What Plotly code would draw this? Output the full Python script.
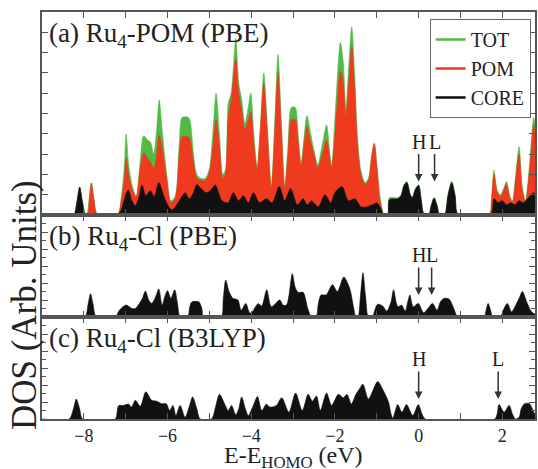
import plotly.graph_objects as go
from plotly.subplots import make_subplots

# ---------------- data (energy in eV relative to HOMO, DOS in arb. units) -------------
# Panel (a) Ru4-POM (PBE): total DOS
tot_E = [-9.0, -8.25, -8.17, -8.1, -8.03, -7.95, -7.93, -7.87, -7.82, -7.76, -7.67, -7.2,
         -7.1, -7.03, -6.99, -6.93, -6.85, -6.75, -6.66, -6.57, -6.48, -6.41, -6.33, -6.26,
         -6.2, -6.12, -6.02, -5.92, -5.82, -5.72, -5.65, -5.5, -5.45, -5.38, -5.3, -5.2,
         -5.1, -5.0, -4.92, -4.84, -4.76, -4.68, -4.62, -4.55, -4.48, -4.37, -4.3, -4.23,
         -4.15, -4.08, -4.01, -3.94, -3.86, -3.78, -3.7, -3.62, -3.52, -3.44, -3.36, -3.28,
         -3.2, -3.12, -3.04, -2.95, -2.88, -2.81, -2.74, -2.67, -2.58, -2.48, -2.41, -2.3,
         -2.2, -2.12, -2.08, -1.98, -1.87, -1.8, -1.74, -1.68, -1.6, -1.53, -1.46, -1.38,
         -1.28, -1.2, -1.12, -1.06, -1.0, -0.93, -0.86, -0.84, -0.74, -0.7, -0.5, -0.42,
         -0.35, -0.28, -0.2, -0.15, -0.08, 0.0, 0.06, 0.13, 0.24, 0.3, 0.37, 0.44, 0.5,
         0.62, 0.7, 0.79, 0.87, 0.95, 1.68, 1.74, 1.8, 1.88, 1.96, 2.03, 2.1, 2.17, 2.24,
         2.32, 2.4, 2.47, 2.55, 2.65, 2.75, 2.8]
tot_V = [0, 0, 0.6, 1.38, 0.6, 0, 0, 0.8, 1.58, 0.8, 0, 0,
         1.0, 2.5, 4.0, 2.5, 1.5, 0.9, 2.5, 3.9, 3.7, 3.6, 3.0, 4.2,
         5.67, 4.0, 2.0, 0.7, 0.9, 3.5, 4.8, 4.8, 4.5, 3.0, 2.0, 1.8,
         1.8, 2.3, 4.0, 6.0, 4.0, 2.0, 2.2, 5.5, 6.0, 8.7, 6.5, 5.7,
         4.5, 5.2, 6.0, 4.0, 2.4, 4.5, 7.0, 4.5, 1.4, 4.5, 7.9, 4.5,
         1.4, 3.5, 5.3, 5.3, 4.0, 2.56, 3.8, 4.9, 4.0, 3.0, 2.46, 3.5,
         4.43, 3.0, 2.4, 5.5, 8.5, 7.5, 5.2, 7.0, 9.26, 7.0, 3.8, 2.2,
         1.6, 1.8, 3.0, 3.55, 2.5, 1.0, 0.2, 0.05, 0.05, 0.85, 0.85, 1.0,
         1.5, 1.65, 1.0, 0.9, 1.3, 1.5, 0.8, 0.05, 0.05, 0.5, 0.85, 0.5, 0.05,
         0.05, 1.0, 1.65, 1.0, 0, 0, 0.8, 2.2, 1.2, 1.0, 1.3, 1.65, 1.0, 0.7,
         2.0, 3.36, 1.5, 0.7, 2.5, 4.8, 4.0]

# Panel (a): POM projected DOS
pom_E = [-9.0, -7.93, -7.87, -7.82, -7.76, -7.67, -7.2, -7.1, -7.03, -6.99, -6.93, -6.85,
         -6.75, -6.66, -6.57, -6.48, -6.41, -6.33, -6.26, -6.2, -6.12, -6.02, -5.92, -5.82,
         -5.72, -5.65, -5.5, -5.45, -5.38, -5.3, -5.2, -5.1, -5.0, -4.92, -4.84, -4.76,
         -4.68, -4.62, -4.55, -4.48, -4.37, -4.3, -4.23, -4.15, -4.08, -4.01, -3.94, -3.86,
         -3.78, -3.7, -3.62, -3.52, -3.44, -3.36, -3.28, -3.2, -3.12, -3.04, -2.95, -2.88,
         -2.81, -2.74, -2.67, -2.58, -2.48, -2.41, -2.3, -2.2, -2.12, -2.08, -1.98, -1.87,
         -1.8, -1.74, -1.68, -1.6, -1.53, -1.46, -1.38, -1.28, -1.2, -1.12, -1.06, -1.0,
         -0.93, -0.86, -0.84, -0.72, -0.68, 0.1, 0.13, 1.68, 1.74, 1.8, 1.88, 1.96, 2.03,
         2.1, 2.17, 2.24, 2.32, 2.4, 2.47, 2.55, 2.65, 2.75, 2.8]
pom_V = [0, 0, 0.8, 1.58, 0.8, 0, 0, 0.8, 1.8, 2.8, 2.0, 1.3,
         0.9, 2.2, 3.05, 2.8, 2.6, 2.3, 3.0, 3.94, 3.2, 1.8, 0.6, 0.8,
         3.0, 3.85, 3.85, 3.6, 2.6, 1.8, 1.7, 1.7, 2.1, 3.3, 4.7, 3.4,
         1.8, 2.0, 4.8, 5.6, 7.7, 6.0, 5.2, 4.2, 4.6, 5.07, 3.6, 2.2,
         4.2, 6.5, 4.2, 1.3, 4.0, 7.0, 4.2, 1.3, 3.0, 4.7, 4.7, 3.6,
         2.4, 3.4, 4.35, 3.6, 2.8, 2.3, 3.0, 3.7, 2.8, 2.3, 4.5, 7.1,
         6.5, 4.8, 6.2, 8.3, 6.3, 3.4, 2.0, 1.5, 1.7, 2.9, 3.5, 2.4,
         0.8, 0.1, 0, 0, 0.15, 0.15, 0, 0, 0.7, 2.0, 1.1, 0.9, 1.2,
         1.5, 0.9, 0.6, 1.8, 3.0, 1.3, 0.6, 2.2, 4.4, 3.6]

# Panel (a): Ru4 core projected DOS
core_E = [-9.0, -8.25, -8.17, -8.1, -8.03, -7.95, -7.2, -7.1, -7.0, -6.94, -6.85, -6.77,
          -6.68, -6.61, -6.52, -6.41, -6.32, -6.21, -6.1, -6.0, -5.9, -5.78, -5.66, -5.58,
          -5.48, -5.38, -5.3, -5.2, -5.08, -4.98, -4.86, -4.7, -4.55, -4.43, -4.3, -4.19,
          -4.07, -3.95, -3.8, -3.64, -3.5, -3.33, -3.2, -3.06, -2.9, -2.76, -2.66, -2.56,
          -2.4, -2.24, -2.1, -2.0, -1.83, -1.68, -1.52, -1.38, -1.25, -1.1, -1.0, -0.9,
          -0.84, -0.74, -0.7, -0.5, -0.42, -0.35, -0.28, -0.2, -0.15, -0.08, 0.0, 0.06,
          0.13, 0.24, 0.3, 0.37, 0.44, 0.5, 0.62, 0.7, 0.79, 0.87, 0.95, 1.72, 1.8, 1.9,
          2.0, 2.1, 2.2, 2.3, 2.4, 2.5, 2.6, 2.75, 2.8]
core_V = [0, 0, 0.6, 1.38, 0.6, 0, 0, 0.3, 1.0, 1.23, 0.7, 0.45,
          0.9, 1.48, 0.95, 1.2, 0.9, 1.6, 1.0, 0.5, 0.25, 0.5, 0.9, 1.1,
          0.8, 1.1, 1.5, 1.3, 1.1, 1.2, 1.47, 0.7, 0.6, 1.1, 0.7, 0.95,
          0.6, 1.1, 0.6, 0.8, 0.6, 1.4, 0.7, 1.3, 0.5, 0.8, 0.5, 0.7,
          0.4, 1.0, 0.6, 1.1, 1.4, 0.7, 0.8, 0.4, 0.4, 0.5, 0.6, 0.3,
          0, 0, 0.75, 0.8, 0.95, 1.45, 1.6, 1.0, 0.85, 1.25, 1.45, 0.75,
          0, 0, 0.45, 0.84, 0.45, 0, 0, 0.95, 1.6, 0.95, 0, 0, 0.8, 0.6,
          0.7, 0.5, 0.6, 0.5, 0.7, 0.6, 0.8, 1.1, 0.9]

# Panel (b) Ru4-Cl (PBE)
b_E = [-9.0, -7.98, -7.9, -7.84, -7.78, -7.7, -7.25, -7.15, -6.99, -6.85, -6.77, -6.7,
       -6.6, -6.53, -6.45, -6.38, -6.3, -6.21, -6.13, -6.06, -6.0, -5.92, -5.83, -5.76,
       -5.7, -5.52, -5.47, -5.42, -5.25, -5.18, -5.14, -4.72, -4.67, -4.61, -4.53, -4.44,
       -4.32, -4.24, -4.13, -4.04, -3.99, -3.9, -3.83, -3.75, -3.63, -3.52, -3.32, -3.24,
       -3.16, -3.1, -3.02, -2.95, -2.88, -2.76, -2.65, -2.56, -2.45, -2.4, -2.33, -2.21,
       -2.06, -1.94, -1.79, -1.65, -1.55, -1.5, -1.45, -1.39, -1.33, -1.27, -1.2, -1.1,
       -1.05, -0.98, -0.86, -0.76, -0.66, -0.6, -0.52, -0.48, -0.41, -0.32, -0.26, -0.21,
       -0.13, -0.01, 0.12, 0.22, 0.33, 0.44, 0.52, 0.61, 0.73, 0.84, 0.94, 1.56, 1.61,
       1.66, 1.72, 1.77, 1.95, 2.02, 2.12, 2.22, 2.3, 2.4, 2.48, 2.58, 2.7, 2.8]
b_V = [0, 0, 1.5, 2.74, 1.5, 0, 0, 0.8, 1.4, 1.0, 1.0, 1.4,
       2.2, 3.05, 2.0, 1.6, 2.2, 3.3, 1.4, 2.5, 3.1, 2.2, 3.2, 1.5,
       0, 0, 1.2, 1.77, 1.77, 1.0, 0, 0, 2.0, 4.35, 3.0, 2.2,
       2.0, 0.8, 1.6, 0.5, 0.5, 1.2, 1.6, 1.3, 3.2, 1.2, 2.0, 1.4,
       1.4, 2.5, 5.1, 3.5, 2.9, 2.9, 1.0, 0, 0, 1.5, 2.6, 2.6,
       3.8, 3.0, 4.7, 3.4, 1.0, 0, 0, 2.5, 5.2, 2.5, 0, 0,
       0.8, 1.5, 1.3, 0.7, 1.8, 3.2, 1.4, 1.2, 1.4, 0.7, 1.8, 2.6,
       1.2, 1.6, 0.5, 1.0, 1.6, 0.8, 1.8, 2.2, 2.1, 1.0, 0, 0, 0.8,
       1.6, 0.8, 0, 0, 0.8, 1.6, 0.6, 1.2, 2.2, 3.0, 1.8, 0.6, 0.3]

# Panel (c) Ru4-Cl (B3LYP)
c_E = [-9.0, -8.35, -8.25, -8.18, -8.1, -8.03, -7.25, -7.2, -7.17, -7.05, -6.93, -6.86,
       -6.77, -6.65, -6.52, -6.38, -6.26, -6.14, -6.03, -5.95, -5.87, -5.8, -5.7, -5.58,
       -5.48, -5.4, -5.3, -5.22, -4.95, -4.85, -4.76, -4.62, -4.55, -4.47, -4.37, -4.3,
       -4.23, -4.14, -4.07, -3.96, -3.85, -3.75, -3.64, -3.55, -3.4, -3.27, -3.1, -2.94,
       -2.78, -2.64, -2.54, -2.44, -2.35, -2.2, -2.08, -1.92, -1.8, -1.71, -1.61, -1.5,
       -1.42, -1.33, -1.2, -0.98, -0.86, -0.72, -0.66, -0.62, -0.58, -0.5, -0.4, -0.29,
       -0.14, -0.01, 0.08, 0.16, 1.82, 1.92, 2.04, 2.16, 2.25, 2.31, 2.4, 2.45, 2.53,
       2.65, 2.75, 2.8]
c_V = [0, 0, 1.2, 2.35, 1.2, 0, 0, 1.0, 1.57, 1.6, 1.75, 1.4,
       2.2, 1.5, 3.2, 2.2, 2.1, 1.8, 1.8, 1.0, 1.6, 0.4, 1.6, 0.2,
       1.5, 2.6, 1.2, 0, 0, 1.5, 2.9, 1.6, 1.0, 1.6, 0.5, 1.2,
       2.6, 1.2, 0.4, 1.5, 2.65, 1.0, 1.75, 1.4, 1.6, 2.5, 0.8, 3.06,
       1.0, 2.9, 2.1, 2.7, 1.0, 3.06, 1.6, 2.9, 2.5, 2.9, 1.75, 2.9,
       3.5, 4.1, 2.35, 4.4, 3.5, 2.0, 0.6, 0.1, 0.6, 1.7, 0.8, 1.7,
       0.4, 1.7, 0.6, 0, 0, 1.7, 0.8, 1.6, 0.5, 0, 0.2, 1.2, 1.8,
       1.8, 0.8, 0.5]

panel_titles = ["(a) Ru<sub>4</sub>-POM (PBE)", "(b) Ru<sub>4</sub>-Cl (PBE)",
                "(c) Ru<sub>4</sub>-Cl (B3LYP)"]
series_names = ["TOT", "POM", "CORE"]
# HOMO / LUMO markers: (panel row, label, energy, arrow-tip DOS value)
hl_marks = [(1, "H", 0.0, 1.65), (1, "L", 0.38, 1.65),
            (2, "H", 0.0, 2.6), (2, "L", 0.31, 2.6),
            (3, "H", 0.0, 2.35), (3, "L", 1.9, 2.35)]
x_ticks = [-8, -6, -4, -2, 0, 2]

# ---------------- styling -------------
GREEN = "#52b944"
RED = "#ef3a1f"
BLACK = "#111111"
AX = "#555555"
FONT = "Times New Roman, Liberation Serif, Tinos, DejaVu Serif, serif"

fig = make_subplots(rows=3, cols=1, shared_xaxes=True, vertical_spacing=0,
                    row_heights=[203, 102, 102])

SHAPE = dict(shape="spline", smoothing=0.8)
fig.add_trace(go.Scatter(x=tot_E, y=tot_V, mode="lines", fill="tozeroy",
                         line=dict(color=GREEN, width=0.6, **SHAPE), fillcolor=GREEN,
                         showlegend=False, name="TOT"), row=1, col=1)
fig.add_trace(go.Scatter(x=pom_E, y=pom_V, mode="lines", fill="tozeroy",
                         line=dict(color=RED, width=0.6, **SHAPE), fillcolor=RED,
                         showlegend=False, name="POM"), row=1, col=1)
fig.add_trace(go.Scatter(x=core_E, y=core_V, mode="lines", fill="tozeroy",
                         line=dict(color=BLACK, width=0.6, **SHAPE), fillcolor=BLACK,
                         showlegend=False, name="CORE"), row=1, col=1)
fig.add_trace(go.Scatter(x=b_E, y=b_V, mode="lines", fill="tozeroy",
                         line=dict(color=BLACK, width=0.6, **SHAPE), fillcolor=BLACK,
                         showlegend=False), row=2, col=1)
fig.add_trace(go.Scatter(x=c_E, y=c_V, mode="lines", fill="tozeroy",
                         line=dict(color=BLACK, width=0.6, **SHAPE), fillcolor=BLACK,
                         showlegend=False), row=3, col=1)

# legend proxies (line samples only)
for name, col in zip(series_names, [GREEN, RED, BLACK]):
    fig.add_trace(go.Scatter(x=[None], y=[None], mode="lines", name=name,
                             line=dict(color=col, width=2.5)), row=1, col=1)

for r in (1, 2, 3):
    fig.update_xaxes(range=[-9, 2.78], showline=True, linecolor=AX, linewidth=1.5,
                     mirror="ticks", ticks="inside", ticklen=6, tickwidth=1.2, tickcolor=AX,
                     tickvals=x_ticks, showgrid=False, zeroline=False,
                     minor=dict(dtick=1, tick0=0, ticks="inside", ticklen=6,
                                tickcolor=AX, showgrid=False),
                     tickfont=dict(family=FONT, size=18, color="#222"),
                     ticklabelstandoff=0,
                     row=r, col=1)
fig.update_yaxes(range=[0, 10], dtick=1, row=1, col=1)
fig.update_yaxes(range=[0, 12], dtick=2, row=2, col=1,
                 minor=dict(dtick=1, ticks="inside", ticklen=4, tickcolor=AX))
fig.update_yaxes(range=[0, 12], dtick=2, row=3, col=1,
                 minor=dict(dtick=1, ticks="inside", ticklen=4, tickcolor=AX))
fig.update_yaxes(showticklabels=False, showline=True, linecolor=AX, linewidth=1.5,
                 mirror="ticks", ticks="inside", ticklen=6, tickcolor=AX,
                 showgrid=False, zeroline=False)

annotations = []
title_y = [35, 238, 340]
for t, yy in zip(panel_titles, title_y):
    annotations.append(dict(text=t, xref="paper", yref="paper",
                            x=(47 - 42) / 496, y=(419 - yy) / 407,
                            xanchor="left", yanchor="middle", showarrow=False,
                            font=dict(family=FONT, size=27, color="#222")))
axis_names = {1: ("x", "y"), 2: ("x2", "y2"), 3: ("x3", "y3")}
for row, lab, e, v in hl_marks:
    xr, yr = axis_names[row]
    annotations.append(dict(text=lab, x=e, y=v, xref=xr, yref=yr, showarrow=True,
                            ax=0, ay=-40, arrowhead=2, arrowsize=1, arrowwidth=1.5,
                            arrowcolor="#333", standoff=0,
                            font=dict(family=FONT, size=20, color="#222")))
annotations.append(dict(text="DOS (Arb. Units)", textangle=-90, xref="paper", yref="paper",
                        x=(24 - 42) / 496, y=(419 - 305) / 407, xanchor="center",
                        yanchor="middle", showarrow=False,
                        font=dict(family=FONT, size=35, color="#222")))
annotations.append(dict(text="E-E<sub>HOMO</sub> (eV)", xref="paper", yref="paper",
                        x=(295 - 42) / 496, y=-(457 - 419) / 407, xanchor="center",
                        yanchor="middle", showarrow=False,
                        font=dict(family=FONT, size=24, color="#222")))

fig.update_layout(
    width=538, height=469,
    margin=dict(l=42, r=1, t=12, b=50),
    plot_bgcolor="white", paper_bgcolor="white",
    annotations=annotations,
    legend=dict(x=(432 - 42) / 496, y=(419 - 19) / 407, xanchor="left", yanchor="top",
                bgcolor="white", bordercolor="#666", borderwidth=1,
                font=dict(family=FONT, size=20, color="#222"),
                itemwidth=30, tracegroupgap=0),
)

fig.write_html("out.html")
